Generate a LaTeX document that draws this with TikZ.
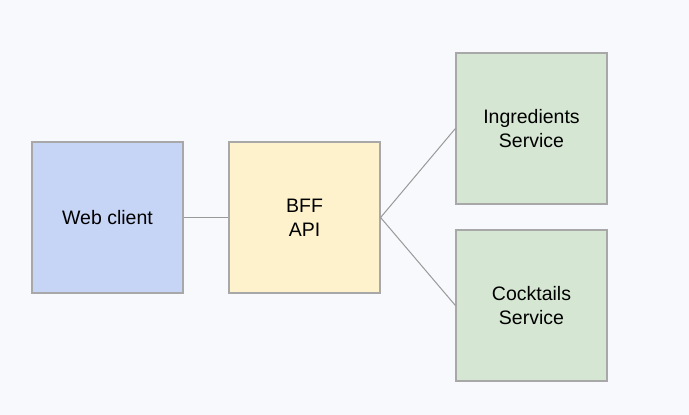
\documentclass[tikz,border=0pt]{standalone}
\usepackage{fontspec}
\setmainfont{Liberation Sans}
\definecolor{bg}{HTML}{F8F9FD}
\definecolor{blueF}{HTML}{C6D4F5}
\definecolor{yellowF}{HTML}{FEF2CC}
\definecolor{greenF}{HTML}{D5E7D2}
\definecolor{edge}{HTML}{A8A8A8}
\definecolor{wire}{HTML}{999999}
\tikzset{
  box/.style={draw=edge, line width=1.2pt, minimum width=151pt, minimum height=151pt, inner sep=0pt, align=center, font=\fontsize{19.5}{24}\selectfont, text=black},
  wireline/.style={draw=wire, line width=1pt}
}
\begin{document}
\begin{tikzpicture}[x=1pt,y=-1pt]
\fill[bg] (0,0) rectangle (689,415);
\useasboundingbox (0,0) rectangle (689,415);
\node[box, fill=blueF] (web) at (107.5,217.5) {Web client};
\node[box, fill=yellowF] (bff) at (304.5,217.5) {BFF\\API};
\node[box, fill=greenF] (ing) at (531.5,128.5) {Ingredients\\Service};
\node[box, fill=greenF] (coc) at (531.5,305.5) {Cocktails\\Service};
\draw[wireline] (web.east) -- (bff.west);
\draw[wireline] (bff.east) -- (ing.west);
\draw[wireline] (bff.east) -- (coc.west);
\end{tikzpicture}
\end{document}
